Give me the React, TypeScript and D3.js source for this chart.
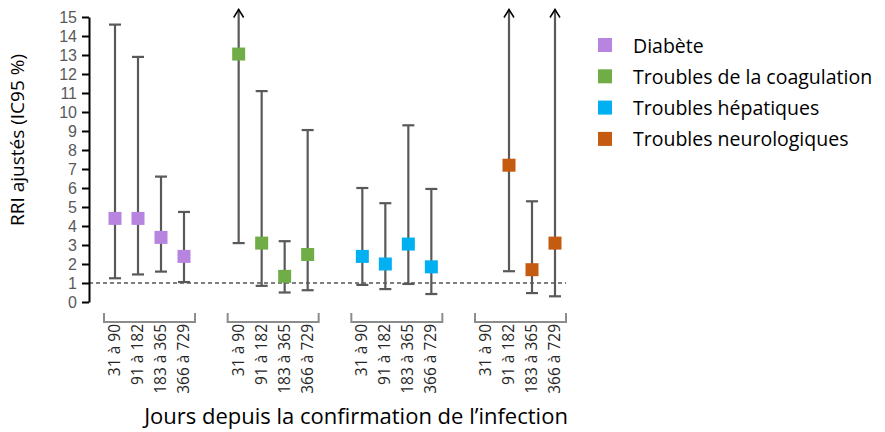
import React, { useEffect, useRef } from "react";
import * as d3 from "d3";

const groups = ["Diabète", "Troubles de la coagulation", "Troubles hépatiques", "Troubles neurologiques"];
const periods = ["31 à 90", "91 à 182", "183 à 365", "366 à 729"];
const colors = ["#b784df", "#70ad47", "#00b0f0", "#c55a11"];

// point estimates (null = no estimate)
const rri = [
  [4.4, 4.4, 3.4, 2.4],
  [13.05, 3.1, 1.35, 2.5],
  [2.4, 2.0, 3.05, 1.85],
  [null, 7.2, 1.7, 3.1],
];
// lower bound of IC95
const lower = [
  [1.25, 1.45, 1.6, 1.05],
  [3.1, 0.85, 0.5, 0.62],
  [0.9, 0.68, 0.95, 0.42],
  [null, 1.62, 0.47, 0.3],
];
// upper bound of IC95 (Infinity = off the scale, drawn as an arrow)
const upper = [
  [14.6, 12.9, 6.6, 4.74],
  [Infinity, 11.1, 3.2, 9.05],
  [6.0, 5.2, 9.3, 5.95],
  [null, Infinity, 5.3, Infinity],
];
const yTicks = d3.range(0, 16);

const font = "'Open Sans', sans-serif";

const App = () => {
  const ref = useRef<SVGSVGElement>(null);

  useEffect(() => {
    const svg = d3.select(ref.current);
    svg.selectAll("*").remove();

    const y = d3.scaleLinear().domain([0, 15]).range([302, 17]);
    const gx = d3.scalePoint().domain(groups).range([115, 486]);
    const px = d3.scalePoint().domain(periods).range([0, 69]);
    const xAxisX = 89;

    // y axis
    const ax = svg
      .append("g")
      .attr("transform", `translate(${xAxisX},0)`)
      .call(d3.axisLeft(y).tickValues(yTicks).tickSize(7).tickSizeOuter(0).tickPadding(5));
    ax.select(".domain").attr("stroke", "#000").attr("stroke-width", 2);
    ax.selectAll(".tick line").attr("stroke", "#000").attr("stroke-width", 2);
    ax.selectAll(".tick text")
      .attr("fill", "#595959")
      .style("font-family", "'Liberation Sans', sans-serif")
      .style("font-size", "16px");

    svg
      .append("text")
      .attr("transform", `translate(24,140) rotate(-90)`)
      .attr("text-anchor", "middle")
      .style("font-family", font)
      .style("font-size", "19px")
      .attr("fill", "#000")
      .text("RRI ajustés (IC95 %)");

    // reference line at 1
    svg
      .append("line")
      .attr("x1", xAxisX)
      .attr("x2", 566)
      .attr("y1", y(1))
      .attr("y2", y(1))
      .attr("stroke", "#000")
      .attr("stroke-width", 1.2)
      .attr("stroke-dasharray", "4,3");

    groups.forEach((g, gi) => {
      const g0 = gx(g)!;
      const grp = svg.append("g");

      periods.forEach((p, pi) => {
        const cx = g0 + px(p)!;
        const v = rri[gi][pi];
        const lo = lower[gi][pi];
        const hi = upper[gi][pi];
        if (v != null && lo != null && hi != null) {
          const top = hi === Infinity ? 9.5 : y(hi);
          grp
            .append("line")
            .attr("x1", cx)
            .attr("x2", cx)
            .attr("y1", top)
            .attr("y2", y(lo))
            .attr("stroke", "#595959")
            .attr("stroke-width", 2.2);
          grp
            .append("line")
            .attr("x1", cx - 6)
            .attr("x2", cx + 6)
            .attr("y1", y(lo))
            .attr("y2", y(lo))
            .attr("stroke", "#595959")
            .attr("stroke-width", 2.2);
          if (hi === Infinity) {
            grp
              .append("path")
              .attr("d", `M${cx - 5},${top + 8}L${cx},${top}L${cx + 5},${top + 8}`)
              .attr("fill", "none")
              .attr("stroke", "#000")
              .attr("stroke-width", 1.5);
          } else {
            grp
              .append("line")
              .attr("x1", cx - 6)
              .attr("x2", cx + 6)
              .attr("y1", top)
              .attr("y2", top)
              .attr("stroke", "#595959")
              .attr("stroke-width", 2.2);
          }
          grp
            .append("rect")
            .attr("x", cx - 6.5)
            .attr("y", y(v) - 6.5)
            .attr("width", 13)
            .attr("height", 13)
            .attr("fill", colors[gi]);
        }

        // rotated period label
        svg
          .append("text")
          .attr("transform", `translate(${cx + 5},324) rotate(-90)`)
          .attr("text-anchor", "end")
          .style("font-family", font)
          .style("font-size", "15.5px")
          .attr("fill", "#262626")
          .text(p);
      });

      // bracket under group
      const bx0 = g0 - 11;
      const bx1 = g0 + 69 + 11;
      svg
        .append("path")
        .attr("d", `M${bx0},313V322H${bx1}V313`)
        .attr("fill", "none")
        .attr("stroke", "#8c8c8c")
        .attr("stroke-width", 2);

      // legend
      const ly = 45 + gi * 31.3;
      svg
        .append("rect")
        .attr("x", 598)
        .attr("y", ly - 7)
        .attr("width", 14)
        .attr("height", 14)
        .attr("fill", colors[gi]);
      svg
        .append("text")
        .attr("x", 633)
        .attr("y", ly)
        .attr("dominant-baseline", "central")
        .style("font-family", font)
        .style("font-size", "19.5px")
        .attr("fill", "#000")
        .text(g);
    });

    svg
      .append("text")
      .attr("x", 356)
      .attr("y", 424)
      .attr("text-anchor", "middle")
      .style("font-family", font)
      .style("font-size", "22px")
      .attr("fill", "#000")
      .text("Jours depuis la confirmation de l’infection");
  }, []);

  return (
    <svg
      ref={ref}
      width={885}
      height={432}
      style={{ position: "absolute", left: 0, top: 0, background: "#fff" }}
    ></svg>
  );
};

export default App;
